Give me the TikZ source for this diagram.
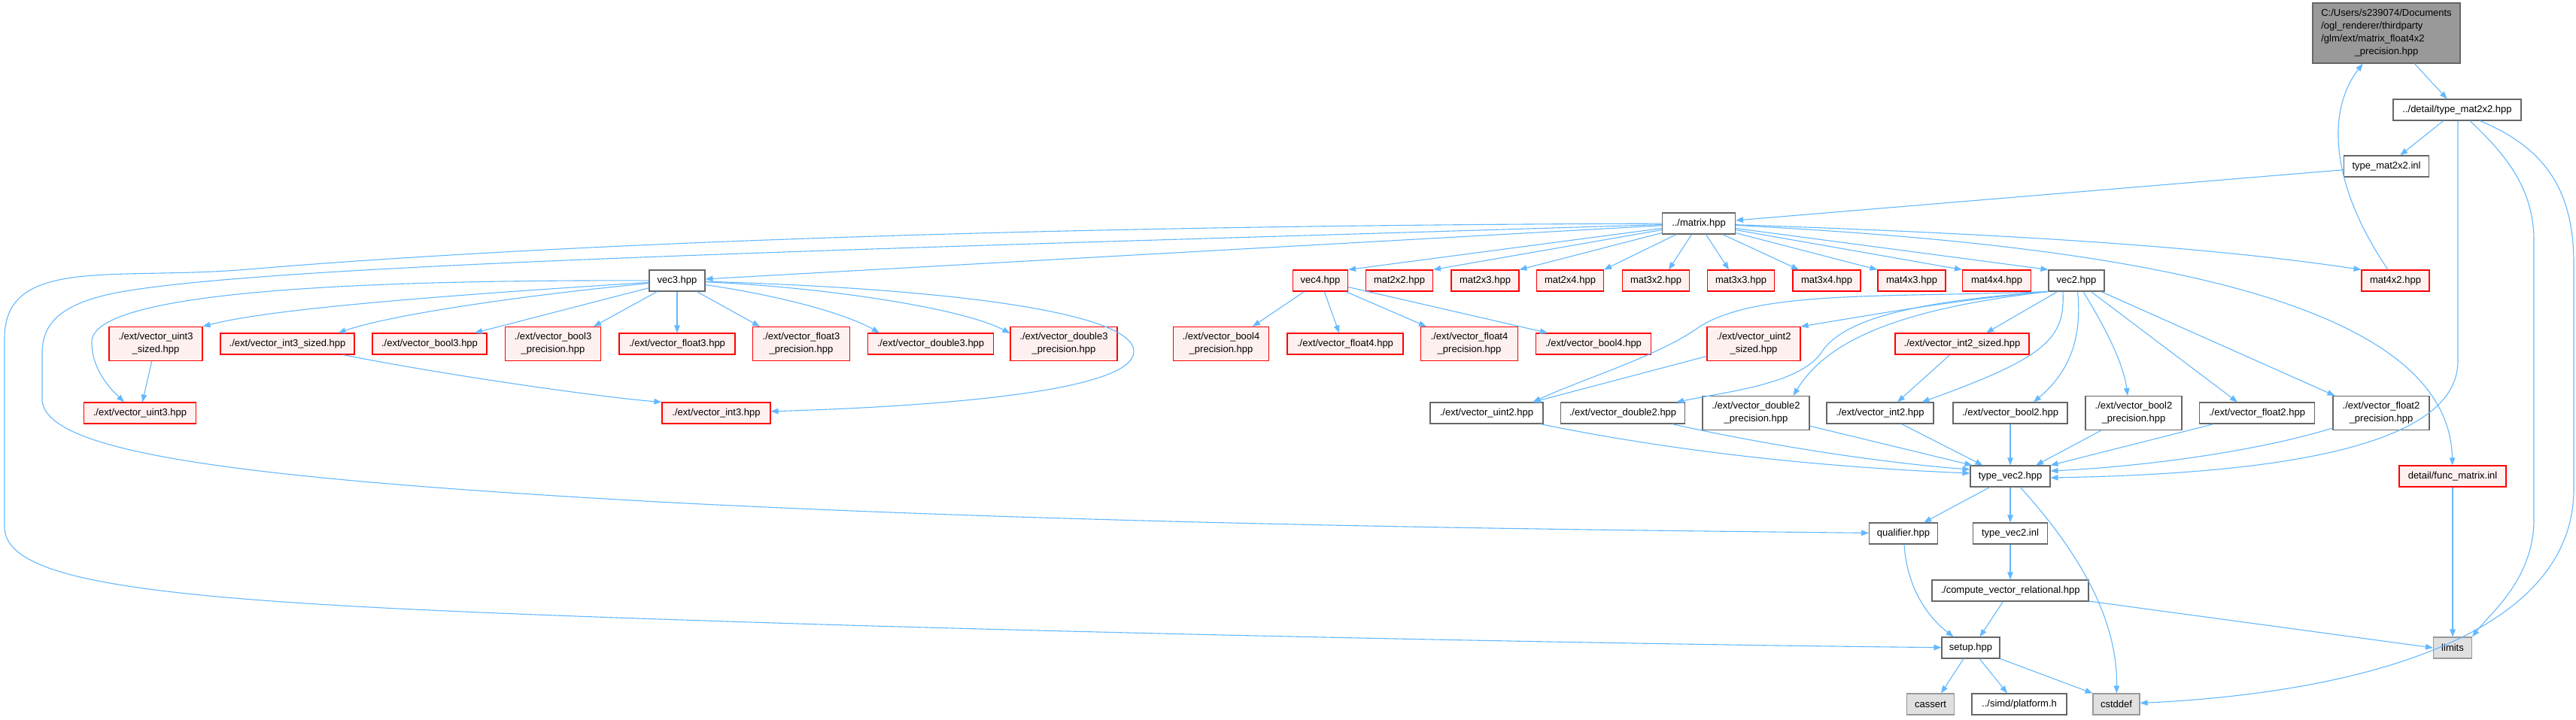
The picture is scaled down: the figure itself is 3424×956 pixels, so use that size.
\documentclass[tikz,border=0pt]{standalone}
\usepackage{fontspec}
\setmainfont{Liberation Sans}
\usetikzlibrary{arrows.meta}
\definecolor{edgeblue}{HTML}{63B8FF}
\definecolor{redfill}{HTML}{FFF0F0}
\definecolor{gfour}{HTML}{666666}
\definecolor{gsix}{HTML}{999999}
\definecolor{extfill}{HTML}{E0E0E0}
\tikzset{
 nbox/.style={draw, line width=1.1pt, inner sep=0pt, minimum height=28pt, font=\fontsize{13}{17}\selectfont, align=center},
 wbox/.style={nbox, fill=white, draw=gfour},
 rbox/.style={nbox, fill=redfill, draw=red},
 ebox/.style={nbox, fill=extfill, draw=gsix},
 rootbox/.style={nbox, fill=gsix, draw=gfour},
 tall/.style={minimum height=45pt},
 conn/.style={draw=edgeblue, line width=1.1pt, -{Triangle[length=10pt,width=7.5pt]}},
}
\begin{document}
\begin{tikzpicture}[x=1pt,y=-1pt]
\useasboundingbox (0,0) rectangle (3424,956);

% ---------------- nodes
\node[rootbox, minimum width=196pt, minimum height=80pt] (root) at (3172,44) {\begin{tabular}{@{}l@{}}C:/Users/s239074/Documents\\/ogl\_renderer/thirdparty\\/glm/ext/matrix\_float4x2\\\multicolumn{1}{@{}c@{}}{\_precision.hpp}\end{tabular}};
\node[wbox, minimum width=170pt] (dmat) at (3266,146) {../detail/type\_mat2x2.hpp};
\node[wbox, minimum width=113pt] (minl) at (3172,221) {type\_mat2x2.inl};
\node[wbox, minimum width=97pt] (matrix) at (2258,297) {../matrix.hpp};

\node[wbox, minimum width=74pt] (vec3) at (900,373) {vec3.hpp};
\node[rbox, minimum width=73pt] (vec4) at (1755,373) {vec4.hpp};
\node[rbox, minimum width=89pt] (m22) at (1860,373) {mat2x2.hpp};
\node[rbox, minimum width=90pt] (m23) at (1974,373) {mat2x3.hpp};
\node[rbox, minimum width=89pt] (m24) at (2087,373) {mat2x4.hpp};
\node[rbox, minimum width=89pt] (m32) at (2201,373) {mat3x2.hpp};
\node[rbox, minimum width=89pt] (m33) at (2314,373) {mat3x3.hpp};
\node[rbox, minimum width=90pt] (m34) at (2428,373) {mat3x4.hpp};
\node[rbox, minimum width=90pt] (m43) at (2541,373) {mat4x3.hpp};
\node[rbox, minimum width=91pt] (m44) at (2654,373) {mat4x4.hpp};
\node[wbox, minimum width=74pt] (vec2) at (2760,373) {vec2.hpp};
\node[rbox, minimum width=90pt] (m42) at (3184,373) {mat4x2.hpp};

\node[rbox, tall, minimum width=124pt] (u3s) at (207,457) {./ext/vector\_uint3\\\_sized.hpp};
\node[rbox, minimum width=178pt] (i3s) at (382,457) {./ext/vector\_int3\_sized.hpp};
\node[rbox, minimum width=152pt] (b3) at (571,457) {./ext/vector\_bool3.hpp};
\node[rbox, tall, minimum width=127pt] (b3p) at (735,457) {./ext/vector\_bool3\\\_precision.hpp};
\node[rbox, minimum width=154pt] (f3) at (900,457) {./ext/vector\_float3.hpp};
\node[rbox, tall, minimum width=129pt] (f3p) at (1065,457) {./ext/vector\_float3\\\_precision.hpp};
\node[rbox, minimum width=167pt] (d3) at (1237,457) {./ext/vector\_double3.hpp};
\node[rbox, tall, minimum width=142pt] (d3p) at (1414,457) {./ext/vector\_double3\\\_precision.hpp};
\node[rbox, tall, minimum width=127pt] (b4p) at (1623,457) {./ext/vector\_bool4\\\_precision.hpp};
\node[rbox, minimum width=154pt] (f4) at (1788,457) {./ext/vector\_float4.hpp};
\node[rbox, tall, minimum width=129pt] (f4p) at (1953,457) {./ext/vector\_float4\\\_precision.hpp};
\node[rbox, minimum width=153pt] (b4) at (2118,457) {./ext/vector\_bool4.hpp};
\node[rbox, tall, minimum width=124pt] (u2s) at (2331,457) {./ext/vector\_uint2\\\_sized.hpp};
\node[rbox, minimum width=178pt] (i2s) at (2608,457) {./ext/vector\_int2\_sized.hpp};

\node[rbox, minimum width=149pt] (u3) at (186,549) {./ext/vector\_uint3.hpp};
\node[rbox, minimum width=144pt] (i3) at (952,549) {./ext/vector\_int3.hpp};
\node[wbox, minimum width=150pt] (u2) at (1976,549) {./ext/vector\_uint2.hpp};
\node[wbox, minimum width=165pt] (d2) at (2157,549) {./ext/vector\_double2.hpp};
\node[wbox, tall, minimum width=142pt] (d2p) at (2334,549) {./ext/vector\_double2\\\_precision.hpp};
\node[wbox, minimum width=142pt] (i2) at (2499,549) {./ext/vector\_int2.hpp};
\node[wbox, minimum width=152pt] (b2) at (2672,549) {./ext/vector\_bool2.hpp};
\node[wbox, tall, minimum width=128pt] (b2p) at (2836,549) {./ext/vector\_bool2\\\_precision.hpp};
\node[wbox, minimum width=153pt] (f2) at (3000,549) {./ext/vector\_float2.hpp};
\node[wbox, tall, minimum width=128pt] (f2p) at (3165,549) {./ext/vector\_float2\\\_precision.hpp};

\node[wbox, minimum width=106pt] (tv2) at (2672,633) {type\_vec2.hpp};
\node[rbox, minimum width=142pt] (fm) at (3260,633) {detail/func\_matrix.inl};
\node[wbox, minimum width=91pt] (qual) at (2530,709) {qualifier.hpp};
\node[wbox, minimum width=99pt] (tv2inl) at (2672,709) {type\_vec2.inl};
\node[wbox, minimum width=208pt] (comp) at (2672,785) {./compute\_vector\_relational.hpp};
\node[wbox, minimum width=77pt] (setup) at (2619.5,861) {setup.hpp};
\node[ebox, minimum width=51pt] (limits) at (3260,861) {limits};
\node[ebox, minimum width=63pt] (cassert) at (2566,936) {cassert};
\node[wbox, minimum width=126pt] (plat) at (2684,936) {../simd/platform.h};
\node[ebox, minimum width=62pt] (cstddef) at (2813,936) {cstddef};

% ---------------- edges
\draw[conn] (root) -- (dmat);
\draw[conn] (dmat) -- (minl);
\draw[conn] (minl) -- (matrix);
\draw[conn] (m42) .. controls (3100,250) and (3090,150) .. (root);

\draw[conn] (matrix) -- (vec3);
\draw[conn] (matrix) -- (vec4.north east);
\draw[conn] (matrix) -- (m22.north east);
\draw[conn] (matrix) -- (m23.north east);
\draw[conn] (matrix) -- (m24.north east);
\draw[conn] (matrix) -- ([xshift=17pt]m32.north);
\draw[conn] (matrix) -- ([xshift=-16pt]m33.north);
\draw[conn] (matrix) -- ([xshift=-37pt]m34.north);
\draw[conn] (matrix) -- (m43.north west);
\draw[conn] (matrix) -- (m44.north west);
\draw[conn] (matrix) -- (vec2.north west);
\draw[conn] (matrix) .. controls (2700,312) and (2950,330) .. (m42.north west);
\draw[conn] (matrix) .. controls (2800,325) and (3255,390) .. (fm);
\draw[conn] (matrix) .. controls (1200,300) and (600,335) .. (330,358) .. controls (150,373) and (6,340) .. (6,450) -- (6,700) .. controls (6,790) and (300,805) .. (1092,830) .. controls (1700,848) and (2300,858) .. (setup);
\draw[conn] (matrix) .. controls (1200,330) and (350,350) .. (150,390) .. controls (80,405) and (56,430) .. (56,470) -- (56,530) .. controls (56,600) and (300,635) .. (874,667) .. controls (1500,700) and (2200,705) .. (qual);

% vec3
\draw[conn] (vec3) .. controls (600,392) and (360,410) .. (u3s.north east);
\draw[conn] (vec3) .. controls (700,392) and (520,418) .. ([xshift=-22pt]i3s.north east);
\draw[conn] (vec3) -- ([xshift=60pt]b3.north);
\draw[conn] (vec3) -- ([xshift=-10pt]b3p.north east);
\draw[conn] (vec3) -- (f3);
\draw[conn] (vec3) -- ([xshift=10pt]f3p.north west);
\draw[conn] (vec3) .. controls (1050,395) and (1130,420) .. ([xshift=16pt]d3.north west);
\draw[conn] (vec3) .. controls (1100,382) and (1280,410) .. ([yshift=-9pt]d3p.north west);
\draw[conn] (vec3) .. controls (500,372) and (120,385) .. (122,455) .. controls (122,490) and (145,515) .. ([xshift=-21pt]u3.north);
\draw[conn] (vec3) .. controls (1300,385) and (1510,420) .. (1507,468) .. controls (1505,520) and (1250,540) .. (i3);
\draw[conn] (u3s) -- (u3);
\draw[conn] (i3s) .. controls (600,500) and (800,528) .. (i3.north west);

% vec4
\draw[conn] (vec4) -- ([xshift=-22pt]b4p.north east);
\draw[conn] (vec4) -- ([xshift=-8pt]f4.north);
\draw[conn] (vec4) -- ([xshift=8pt]f4p.north west);
\draw[conn] (vec4) -- ([xshift=16pt]b4.north west);

% vec2
\draw[conn] (vec2.south west) .. controls (2600,398) and (2480,420) .. (u2s.north east);
\draw[conn] (vec2) -- ([xshift=32pt]i2s.north);
\draw[conn] (vec2.south west) .. controls (2500,396) and (2330,385) .. (2255,437) .. controls (2200,475) and (2100,505) .. ([xshift=-14pt]u2.north east);
\draw[conn] (u2s) -- ([xshift=-14pt]u2.north east);
\draw[conn] (vec2.south west) .. controls (2560,400) and (2450,420) .. (2420,470) .. controls (2390,510) and (2300,520) .. ([xshift=-12pt]d2.north east);
\draw[conn] (vec2.south west) .. controls (2530,410) and (2430,450) .. ([xshift=-22pt]d2p.north east);
\draw[conn] ([xshift=-18pt]vec2.south) .. controls (2745,450) and (2720,475) .. ([xshift=-16pt]i2.north east);
\draw[conn] (i2s) -- ([xshift=23pt]i2.north);
\draw[conn] (vec2) .. controls (2768,450) and (2750,495) .. ([xshift=31pt]b2.north);
\draw[conn] (vec2) .. controls (2795,430) and (2822,480) .. ([xshift=-8pt]b2p.north);
\draw[conn] (vec2) -- ([xshift=-26pt]f2.north);
\draw[conn] (vec2) -- ([xshift=3pt]f2p.north west);

% into type_vec2
\draw[conn] (u2) .. controls (2250,605) and (2450,622) .. ([yshift=4pt]tv2.west);
\draw[conn] (d2) .. controls (2350,592) and (2500,615) .. ([yshift=9pt]tv2.west);
\draw[conn] (d2p) -- ([xshift=3pt]tv2.north west);
\draw[conn] (i2) -- ([xshift=17pt]tv2.north west);
\draw[conn] (b2) -- (tv2);
\draw[conn] (b2p) -- ([xshift=34pt]tv2.north);
\draw[conn] (f2) -- (tv2.north east);
\draw[conn] (f2p) .. controls (3000,600) and (2850,620) .. ([yshift=7pt]tv2.east);
\draw[conn] ([xshift=1pt]dmat.south) -- (3267,480) .. controls (3267,600) and (3000,630) .. ([yshift=-2pt]tv2.east);

% lower part
\draw[conn] (tv2) -- (qual);
\draw[conn] (tv2) -- (tv2inl);
\draw[conn] (tv2) .. controls (2760,730) and (2815,820) .. (cstddef);
\draw[conn] (tv2inl) -- (comp);
\draw[conn] (comp) -- ([xshift=12pt]setup.north);
\draw[conn] (comp) -- (limits.west);
\draw[conn] (qual) .. controls (2535,785) and (2565,822) .. ([xshift=-23pt]setup.north);
\draw[conn] (setup) -- ([xshift=14pt]cassert.north);
\draw[conn] (setup) -- ([xshift=-16pt]plat.north);
\draw[conn] (setup) -- (cstddef.north west);
\draw[conn] (fm) -- (limits);
\draw[conn] ([xshift=17pt]dmat.south) .. controls (3330,205) and (3368,250) .. (3368,320) -- (3368,690) .. controls (3368,770) and (3310,815) .. (limits.north east);
\draw[conn] ([xshift=30pt]dmat.south) .. controls (3380,195) and (3421,250) .. (3421,350) -- (3421,650) .. controls (3421,840) and (3150,920) .. (cstddef);
\end{tikzpicture}
\end{document}
